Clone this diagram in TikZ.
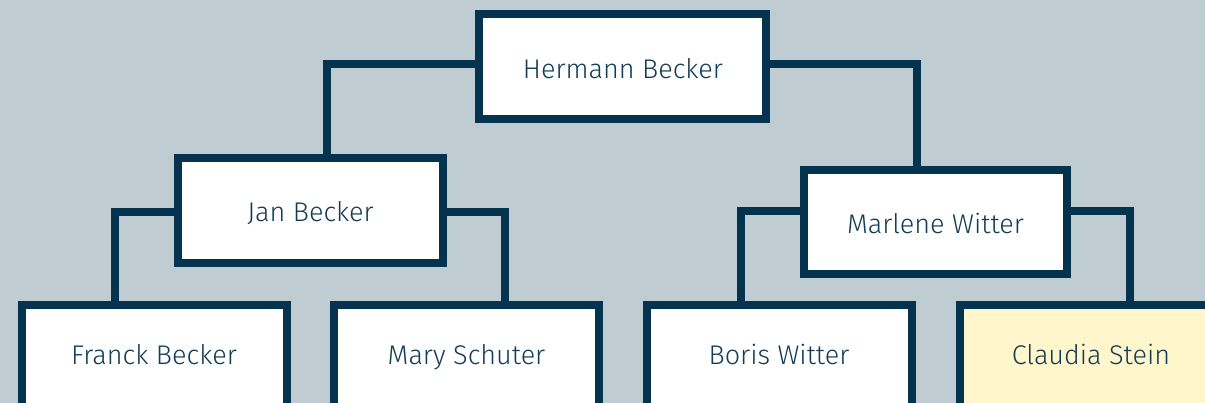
\documentclass[tikz,border=0pt]{standalone}
\usepackage{fontspec}
\setmainfont{Fira Sans Light}
\definecolor{bg}{HTML}{BFCCD2}
\definecolor{edge}{HTML}{03334F}
\definecolor{txt}{HTML}{123C57}
\definecolor{hl}{HTML}{FFF6CC}
\tikzset{
  person/.style={draw=edge, line width=8pt, fill=white, rectangle, minimum width=#1, inner sep=0pt},
  person/.default=265pt,
  label text/.style={text=txt, font=\fontsize{27}{31}\selectfont, anchor=base, inner sep=0pt},
  link/.style={draw=edge, line width=8pt, line join=miter},
}
\begin{document}
\begin{tikzpicture}[x=1pt,y=-1pt]
\useasboundingbox (0,0) rectangle (1205,403);
\fill[bg] (0,0) rectangle (1205,403);
\clip (0,0) rectangle (1205,403);
\node[person=287pt, minimum height=105pt] (herm) at (622.5,66.5) {};
\node[person, minimum height=105pt] (jan) at (310.5,210.5) {};
\node[person=263pt, minimum height=104pt] (mar) at (935.5,222) {};
\node[person, minimum height=110pt, anchor=north] (franck) at (154,301.5) {};
\node[person, minimum height=110pt, anchor=north] (mary) at (466.5,301.5) {};
\node[person, minimum height=110pt, anchor=north] (boris) at (779,301.5) {};
\node[person, minimum height=110pt, anchor=north, fill=hl] (claudia) at (1092.5,301.5) {};
\node[label text] (th) at (623,78.5) {Hermann Becker};
\node[label text] (tj) at (310.5,222) {Jan Becker};
\node[label text] (tw) at (935.5,233.5) {Marlene Witter};
\node[label text] (tf) at (154,364.5) {Franck Becker};
\node[label text] (tm) at (466.5,364.5) {Mary Schuter};
\node[label text] (tb) at (779,364.5) {Boris Witter};
\node[label text] (tc) at (1091,364.5) {Claudia Stein};
\draw[link] ([yshift=2.5pt]herm.west) -| ([xshift=16.5pt]jan.north);
\draw[link] ([yshift=2.5pt]herm.east) -| ([xshift=-18.5pt]mar.north);
\draw[link] ([yshift=-1.5pt]jan.west) -| ([xshift=-39pt]franck.north);
\draw[link] ([yshift=-1.5pt]jan.east) -| ([xshift=38.5pt]mary.north);
\draw[link] ([yshift=11pt]mar.west) -| ([xshift=-38pt]boris.north);
\draw[link] ([yshift=11pt]mar.east) -| ([xshift=37.5pt]claudia.north);
\end{tikzpicture}
\end{document}
